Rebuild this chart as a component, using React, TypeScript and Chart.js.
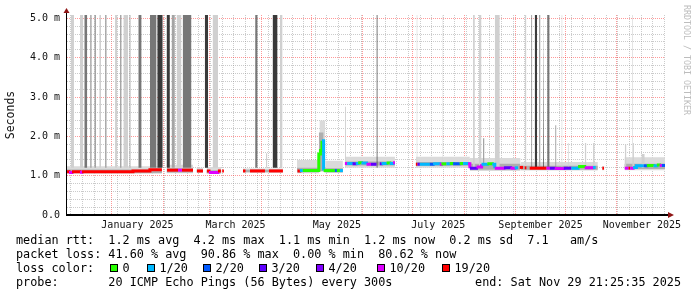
import React, { useEffect, useRef } from 'react';
import { Chart, registerables } from 'chart.js';

Chart.register(...registerables);

// x values are days since 2025-01-01 00:00, y values are milliseconds
const X_START = -26.9;
const X_END = 332.9;
const Y_TOP = 5.085;

const monthStartDays = [0, 31, 59, 90, 120, 151, 181, 212, 243, 273, 304];
const xLabelDays = [15.5, 74.5, 135.5, 196.5, 258, 319];
const xLabels = ['January 2025', 'March 2025', 'May 2025', 'July 2025', 'September 2025', 'November 2025'];
const FIRST_WEEK_DAY = -24.5;
const yLabels = ['0.0', '1.0 m', '2.0 m', '3.0 m', '4.0 m', '5.0 m'];

const lossLabels = ['0', '1/20', '2/20', '3/20', '4/20', '10/20', '19/20'];
const lossColors = ['#26ff00', '#00b8ff', '#0059ff', '#5e00ff', '#7e00ff', '#dd00ff', '#ff0000'];

// median rtt runs: [startDay, endDay, ms, lossIndex]
const medianRuns: number[][] = [
  [-27, -25.7, 1.10, 6], [-25.7, -23.9, 1.08, 5], [-23.9, -19.1, 1.10, 6], [-19.1, -17.9, 1.09, 5],
  [-17.9, 12.8, 1.10, 6], [12.8, 23, 1.12, 6], [23, 30.2, 1.15, 6],
  [33.3, 39.9, 1.14, 6], [39.9, 42.3, 1.14, 5], [42.3, 48.9, 1.14, 6],
  [51.3, 54.9, 1.12, 6],
  [57.3, 58.5, 1.12, 6], [58.5, 63.9, 1.08, 5], [63.9, 65.7, 1.12, 6],
  [66.5, 67.5, 1.12, 6],
  [79, 80.5, 1.12, 6],
  [83.2, 92.2, 1.12, 6],
  [94.6, 103, 1.12, 6],
  [111.8, 113.2, 1.12, 6], [113.2, 115, 1.13, 1], [115, 124.6, 1.13, 0], [124.6, 125.6, 1.55, 0],
  [125.6, 126.5, 1.64, 0], [126.5, 127.5, 1.89, 1], [127.5, 134.3, 1.13, 0], [134.3, 135.5, 1.13, 2],
  [135.5, 137.3, 1.13, 0], [137.3, 139.1, 1.13, 1],
  [140.3, 141.7, 1.31, 5], [141.7, 144.9, 1.31, 1], [144.9, 146.9, 1.30, 3], [146.9, 148.3, 1.31, 1],
  [148.3, 150.3, 1.33, 0], [150.3, 153.3, 1.32, 1], [153.3, 156, 1.29, 5], [156, 159.3, 1.29, 3],
  [161.3, 162.4, 1.30, 3], [162.4, 165.4, 1.31, 1], [165.4, 167.3, 1.32, 0], [167.3, 169.3, 1.31, 1],
  [169.3, 170.4, 1.33, 5],
  [183, 184, 1.29, 6], [184, 185.4, 1.29, 3], [185.4, 191.4, 1.29, 1], [191.4, 193.4, 1.29, 2],
  [193.4, 197.4, 1.30, 1], [197.4, 198.4, 1.29, 5], [198.4, 201.4, 1.30, 0], [201.4, 203.4, 1.30, 1],
  [203.4, 205.4, 1.31, 0], [205.4, 209.4, 1.30, 2], [209.4, 211.4, 1.31, 0], [211.4, 214.4, 1.31, 1],
  [214.4, 215.5, 1.30, 5], [215.5, 219.5, 1.19, 3], [219.5, 222.5, 1.22, 5], [222.5, 226, 1.29, 1],
  [226, 229, 1.30, 0], [229, 230.5, 1.29, 1], [230.5, 236, 1.19, 5], [236, 240, 1.20, 3],
  [240, 242.5, 1.19, 5], [242.5, 244.5, 1.20, 1],
  [245.5, 247.5, 1.21, 6],
  [248.5, 249.5, 1.20, 6],
  [251.5, 261.6, 1.19, 6], [261.6, 263.6, 1.19, 5], [263.6, 266.6, 1.19, 3], [266.6, 272, 1.18, 5],
  [272, 276.6, 1.19, 3], [276.6, 280.6, 1.19, 1], [280.6, 284.6, 1.23, 0], [284.6, 289.6, 1.20, 5],
  [289.6, 291.2, 1.21, 1],
  [295.2, 296.2, 1.19, 6],
  [308.7, 311, 1.19, 5], [311, 312, 1.19, 6], [312, 313.7, 1.19, 5], [313.7, 315.7, 1.21, 1],
  [315.7, 320, 1.25, 1], [320, 322, 1.25, 2], [322, 326, 1.26, 0], [326, 328, 1.25, 1],
  [328, 329.7, 1.27, 0], [329.7, 331, 1.26, 5], [331, 332.9, 1.26, 2],
];

// smoke bands: [startDay, endDay, lowMs, highMs]
const smokeOuter: number[][] = [
  [-27, 30.2, 1.05, 1.24], [33, 49, 1.06, 1.28], [51, 55, 1.07, 1.20], [57, 66, 1.05, 1.22],
  [79, 103, 1.08, 1.18], [111.5, 125, 1.06, 1.40], [125, 128.5, 1.10, 2.40], [128.5, 139.1, 1.07, 1.38],
  [140.3, 170.4, 1.20, 1.48], [183, 215.5, 1.20, 1.48], [215.5, 246, 1.12, 1.45],
  [246, 292.5, 1.13, 1.35], [295, 296.5, 1.14, 1.24], [308.5, 332.9, 1.14, 1.47],
];
const smokeInner: number[][] = [
  [-27, 30.2, 1.07, 1.16], [33, 49, 1.08, 1.19], [51, 55, 1.09, 1.15], [57, 66, 1.06, 1.14],
  [79, 103, 1.09, 1.15], [111.5, 124.6, 1.09, 1.20], [124.6, 127.5, 1.12, 2.10], [127.5, 139.1, 1.09, 1.19],
  [140.3, 170.4, 1.26, 1.36], [183, 215.5, 1.25, 1.35], [215.5, 246, 1.15, 1.30],
  [246, 292.5, 1.15, 1.25], [308.5, 332.9, 1.17, 1.30],
];

// tall smoke columns: [startDay, endDay, topMs]
const SPIKE_BASE = 1.2;
const spikesLight: number[][] = [
  [-24.7, -22.7, 5.1], [-19.1, -17.1, 5.1], [-7.5, -6.4, 5.1], [2, 3.4, 5.1], [7, 9.8, 5.1],
  [39, 42, 5.1], [60.7, 64, 5.1], [101.2, 102.8, 5.1], [140.3, 140.9, 2.75], [183.4, 184, 5.1],
  [199, 199.4, 5.1], [217.4, 218.5, 5.1], [221, 222.5, 5.1], [230.5, 233.5, 5.1], [248.5, 249.5, 5.1],
  [270.6, 271.2, 5.1], [274.4, 275, 1.83], [284.6, 285.6, 1.83], [289.6, 290.6, 1.83],
  [308.7, 309.7, 1.8], [313, 313.5, 5.1], [313.7, 314.3, 1.83], [318.7, 320.7, 1.55],
];
const spikesMid: number[][] = [
  [-13, -12, 5.1], [-10.5, -9.4, 5.1], [-4, -3, 5.1], [5, 6, 5.1], [10.6, 11.4, 5.1], [36, 38, 5.1],
  [93, 93.6, 1.57], [223.4, 224.3, 1.95], [257, 258, 5.1], [266.8, 267.6, 2.28],
];
const spikesDark: number[][] = [
  [-16.5, -14.7, 5.1], [16, 18, 5.1], [23, 27, 5.1], [42.7, 48, 5.1], [86.3, 87.8, 5.1], [262, 263.5, 5.1],
];
const spikesBlack: number[][] = [
  [27.4, 30.7, 5.1], [33, 35, 5.1], [56, 58, 5.1], [96.8, 99.8, 5.1], [159.3, 160, 5.1],
  [252.5, 253, 5.1], [254.5, 256, 5.1], [259.5, 260, 5.1],
];

const statsLines = [
  'median rtt:  1.2 ms avg  4.2 ms max  1.1 ms min  1.2 ms now  0.2 ms sd  7.1   am/s',
  'packet loss: 41.60 % avg  90.86 % max  0.00 % min  80.62 % now',
];
const lossTitle = 'loss color:';
const probeLine = 'probe:       20 ICMP Echo Pings (56 Bytes) every 300s';
const endText = 'end: Sat Nov 29 21:25:35 2025';
const watermark = 'RRDTOOL / TOBI OETIKER';
const yTitle = 'Seconds';

const MONO = '"DejaVu Sans Mono", monospace';

function runsToPoints(runs: number[][]) {
  const pts: any[] = [];
  runs.forEach((r, i) => {
    const [s, e, v, l] = r;
    pts.push({ x: s, y: v, l });
    const next = runs[i + 1];
    if (!next || next[0] !== e) {
      pts.push({ x: e, y: v, l });
      pts.push({ x: e, y: null, l });
    }
  });
  return pts;
}

function rectPoints(list: number[][]) {
  const pts: any[] = [];
  for (const [s, e, t] of list) {
    pts.push({ x: s, y: t }, { x: e, y: t }, { x: e, y: null });
  }
  return pts;
}

const decorPlugin = {
  id: 'rrdDecor',
  afterDraw(chart: any) {
    const { ctx, chartArea: a } = chart;
    ctx.save();
    // axes
    ctx.fillStyle = '#000';
    ctx.fillRect(a.left - 1, a.bottom - 1, a.right - a.left + 4, 2);
    ctx.fillRect(a.left - 1, a.top - 2, 1, a.bottom - a.top + 2);
    // arrows
    ctx.fillStyle = '#8f1515';
    ctx.beginPath();
    ctx.moveTo(a.left - 0.5, a.top - 7);
    ctx.lineTo(a.left - 3.5, a.top - 2);
    ctx.lineTo(a.left + 2.5, a.top - 2);
    ctx.closePath();
    ctx.fill();
    ctx.beginPath();
    ctx.moveTo(a.right + 9, a.bottom);
    ctx.lineTo(a.right + 3, a.bottom - 3);
    ctx.lineTo(a.right + 3, a.bottom + 3);
    ctx.closePath();
    ctx.fill();
    // watermark
    ctx.save();
    ctx.translate(686, 5);
    ctx.rotate(Math.PI / 2);
    ctx.font = '8.3px ' + MONO;
    ctx.fillStyle = '#bdbdbd';
    ctx.textAlign = 'left';
    ctx.textBaseline = 'middle';
    ctx.fillText(watermark, 0, 0);
    ctx.restore();
    // legend text
    ctx.font = '11.8px ' + MONO;
    ctx.fillStyle = '#000';
    ctx.textBaseline = 'middle';
    ctx.textAlign = 'left';
    ctx.fillText(statsLines[0], 16, 241);
    ctx.fillText(statsLines[1], 16, 255);
    ctx.fillText(lossTitle, 16, 268.5);
    const boxX = [110, 146.7, 203.3, 259.3, 316, 376.7, 441.7];
    lossLabels.forEach((lab, i) => {
      const bx = Math.round(boxX[i]);
      ctx.fillStyle = '#000';
      ctx.fillRect(bx, 264, 8, 8);
      ctx.fillStyle = lossColors[i];
      ctx.fillRect(bx + 1, 265, 6, 6);
      ctx.fillStyle = '#000';
      ctx.fillText(lab, bx + 12.5, 268.5);
    });
    ctx.fillText(probeLine, 16, 282.5);
    ctx.textAlign = 'right';
    ctx.fillText(endText, 681, 282.5);
    ctx.restore();
  },
};

export default function App() {
  const ref = useRef<HTMLCanvasElement | null>(null);

  useEffect(() => {
    if (!ref.current) return;
    const medianPts = runsToPoints(medianRuns);
    const datasets: any[] = [];

    datasets.push({
      label: 'median',
      data: medianPts,
      stepped: true,
      borderWidth: 3,
      borderCapStyle: 'butt',
      pointRadius: 0,
      fill: false,
      order: 0,
      segment: {
        borderColor: (c: any) => lossColors[medianPts[c.p0DataIndex].l],
      },
      borderColor: '#ff0000',
    });

    const spikeGroups: [number[][], string][] = [
      [spikesBlack, '#3a3a3a'],
      [spikesDark, '#777777'],
      [spikesMid, '#a4a4a4'],
      [spikesLight, '#d0d0d0'],
    ];
    spikeGroups.forEach(([list, color], i) => {
      datasets.push({
        label: 'spikes' + i,
        data: rectPoints(list),
        borderWidth: 0,
        pointRadius: 0,
        backgroundColor: color,
        borderColor: color,
        fill: { value: SPIKE_BASE },
        order: 1 + i,
      });
    });

    const smokeGroups: [number[][], string, number][] = [
      [smokeInner, '#aeaeae', 10],
      [smokeOuter, '#dadada', 20],
    ];
    smokeGroups.forEach(([list, color, ord]) => {
      list.forEach(([s, e, lo, hi], j) => {
        datasets.push({
          label: 'smoke' + ord + '_' + j,
          data: [{ x: s, y: hi }, { x: e, y: hi }],
          borderWidth: 0,
          pointRadius: 0,
          backgroundColor: color,
          borderColor: color,
          fill: { value: lo },
          order: ord,
        });
      });
    });

    const isNear = (a: number, b: number) => Math.abs(a - b) < 1e-6;
    const tickFont = { family: MONO, size: 10 };

    const chart = new Chart(ref.current, {
      type: 'line',
      data: { datasets },
      plugins: [decorPlugin],
      options: {
        animation: false,
        responsive: false,
        maintainAspectRatio: false,
        layout: { padding: { top: 15, right: 32, left: 0, bottom: 0 } },
        plugins: { legend: { display: false }, tooltip: { enabled: false } },
        elements: { point: { radius: 0 }, line: { tension: 0 } },
        scales: {
          x: {
            type: 'linear',
            min: X_START,
            max: X_END,
            z: 1,
            afterBuildTicks: (scale: any) => {
              const vals: number[] = [];
              for (let d = FIRST_WEEK_DAY; d <= X_END; d += 7) vals.push(d);
              vals.push(...monthStartDays, ...xLabelDays);
              vals.sort((p, q) => p - q);
              scale.ticks = vals.map((v) => ({ value: v }));
            },
            afterFit: (scale: any) => { scale.height = 82; },
            grid: {
              drawTicks: false,
              lineWidth: 1,
              color: (c: any) => {
                const v = c.tick ? c.tick.value : 0;
                if (monthStartDays.some((m) => isNear(m, v))) return 'rgba(255,0,0,0.4)';
                if (xLabelDays.some((m) => isNear(m, v))) return 'rgba(0,0,0,0)';
                return 'rgba(140,140,140,0.45)';
              },
            },
            border: { display: false, dash: [1, 1] },
            ticks: {
              autoSkip: false,
              maxRotation: 0,
              minRotation: 0,
              padding: 4,
              color: '#111',
              font: tickFont,
              callback: (v: any) => {
                const i = xLabelDays.findIndex((d) => isNear(d, Number(v)));
                return i >= 0 ? xLabels[i] : '';
              },
            },
          },
          y: {
            type: 'linear',
            min: 0,
            max: Y_TOP,
            z: 1,
            afterBuildTicks: (scale: any) => {
              const vals: number[] = [];
              for (let i = 0; i <= 25; i++) vals.push(i / 5);
              scale.ticks = vals.map((v) => ({ value: v }));
            },
            afterFit: (scale: any) => { scale.width = 67; },
            grid: {
              drawTicks: false,
              lineWidth: 1,
              color: (c: any) => {
                const v = c.tick ? c.tick.value : 0;
                return isNear(v, Math.round(v)) ? 'rgba(255,0,0,0.4)' : 'rgba(140,140,140,0.45)';
              },
            },
            border: { display: false, dash: [1, 1] },
            ticks: {
              autoSkip: false,
              padding: 7,
              color: '#111',
              font: tickFont,
              callback: (v: any) => {
                const n = Number(v);
                return isNear(n, Math.round(n)) ? yLabels[Math.round(n)] : '';
              },
            },
            title: {
              display: true,
              text: yTitle,
              color: '#111',
              font: { family: MONO, size: 11.5 },
              padding: { top: 4, bottom: 4 },
            },
          },
        },
      },
    } as any);

    return () => chart.destroy();
  }, []);

  return (
    <div style={{ position: 'fixed', left: 0, top: 0, width: 697, height: 297, background: '#fff' }}>
      <canvas ref={ref} width={697} height={297} style={{ display: 'block' }} />
    </div>
  );
}
